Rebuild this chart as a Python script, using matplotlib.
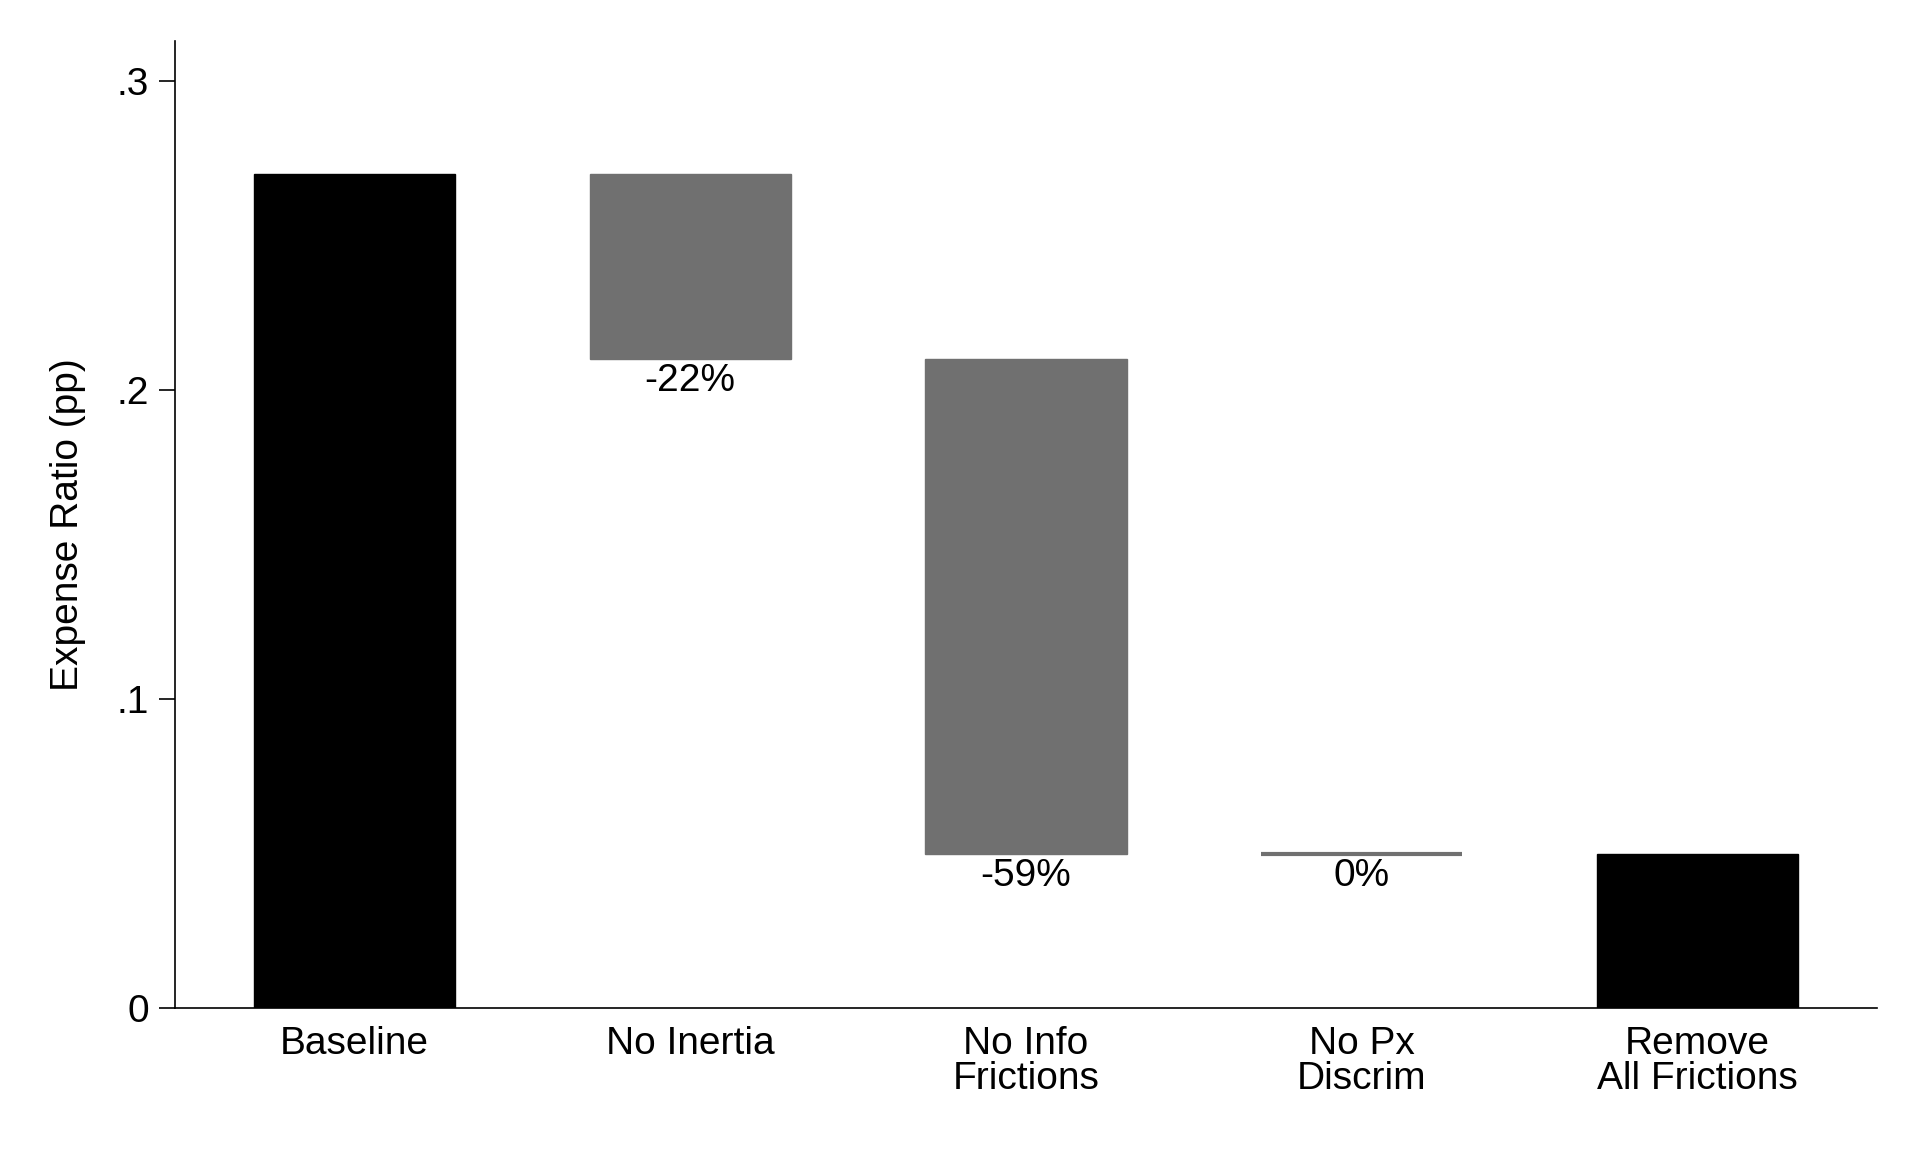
import matplotlib.pyplot as plt
import numpy as np

plt.rcParams['font.family'] = ['Liberation Sans', 'DejaVu Sans']

categories = ["Baseline", "No Inertia", "No Info\nFrictions", "No Px\nDiscrim", "Remove\nAll Frictions"]
# expense ratio level after each step (pp)
levels = [0.27, 0.21, 0.05, 0.05, 0.05]
change_labels = ["-22%", "-59%", "0%"]
yticks = [0, 0.1, 0.2, 0.3]
ytick_labels = ["0", ".1", ".2", ".3"]

x = np.arange(len(categories))
bottoms = [0, levels[1], levels[2], levels[3], 0]
heights = [levels[0], levels[0] - levels[1], levels[1] - levels[2], levels[2] - levels[3], levels[4]]
colors = ["black", "#707070", "#707070", "#707070", "black"]
# zero-height step still shows as a thin line
lws = [1.0 if h > 0 else 3.0 for h in heights]

fig = plt.figure(figsize=(19.2, 11.52), dpi=100)
ax = fig.add_axes([0.0911, 0.125, 0.8865, 0.8394])

ax.bar(x, heights, bottom=bottoms, width=0.6, color=colors, edgecolor=colors, linewidth=lws)

for i, lab in zip(range(1, 4), change_labels):
    ax.annotate(lab, (x[i], bottoms[i]), xytext=(0, -3), textcoords="offset points",
                ha="center", va="top", fontsize=28)

ax.set_xlim(-0.535, 4.535)
ax.set_ylim(0, 0.313)
ax.set_yticks(yticks)
ax.set_yticklabels(ytick_labels)
ax.set_xticks(x)
ax.set_xticklabels(categories, linespacing=0.95)
ax.tick_params(axis="y", labelsize=28, length=11.5, width=1.2, pad=7)
ax.tick_params(axis="x", labelsize=28, length=0, pad=13)
ax.set_ylabel("Expense Ratio (pp)", fontsize=28, labelpad=22)

for s in ["top", "right"]:
    ax.spines[s].set_visible(False)
for s in ["left", "bottom"]:
    ax.spines[s].set_linewidth(1.2)

fig.savefig("out.png", dpi=100)
